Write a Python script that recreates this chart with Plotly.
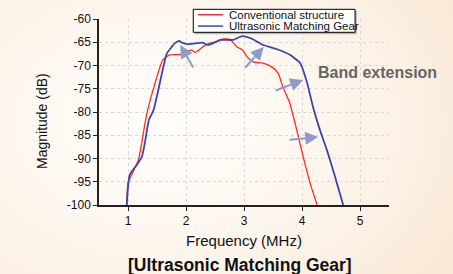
import plotly.graph_objects as go

# Conventional structure (red)
conv_f = [0.978, 1.005, 1.09, 1.18, 1.236, 1.32, 1.45, 1.60, 1.72, 1.91, 1.95, 2.10, 2.16,
          2.29, 2.41, 2.53, 2.64, 2.76, 2.88, 2.98, 3.05, 3.16, 3.33, 3.48, 3.59, 3.67,
          3.79, 3.91, 4.02, 4.14, 4.26]
conv_db = [-100, -95.0, -92.8, -90.3, -86.7, -80.6, -74.5, -68.8, -67.7, -67.6, -67.1, -66.7, -67.2,
           -66.0, -65.2, -64.9, -64.3, -64.4, -66.0, -66.7, -68.1, -69.2, -69.5, -70.3, -71.7, -74.6,
           -78.1, -83.9, -89.6, -95.3, -100]

# Ultrasonic Matching Gear (blue)
umg_f = [0.978, 1.03, 1.15, 1.24, 1.29, 1.36, 1.44, 1.61, 1.67, 1.81, 1.88, 1.95, 2.07, 2.19,
         2.28, 2.38, 2.47, 2.59, 2.81, 2.97, 3.16, 3.33, 3.57, 3.79, 3.97, 4.09, 4.19,
         4.31, 4.43, 4.57, 4.71]
umg_db = [-100, -93.5, -91.4, -89.6, -86.7, -81.7, -79.6, -70.3, -67.4, -65.2, -64.7, -65.2, -65.4, -65.2,
          -65.1, -65.6, -65.2, -64.5, -64.5, -63.7, -64.4, -65.6, -66.5, -67.7, -69.5, -73.8, -78.9,
          -83.9, -88.2, -93.9, -100]

series_names = ["Conventional structure", "Ultrasonic Matching Gear"]
series_colors = ["#ff2a2a", "#3b47a6"]

x_ticks = [1, 2, 3, 4, 5]
x_labels = ["1", "2", "3", "4", "5"]
y_ticks = [-100, -95, -90, -85, -80, -75, -70, -65, -60]
y_labels = ["-100", "-95", "-90", "-85", "-80", "-75", "-70", "-65", "-60"]

# arrows: (tail_f, tail_db, head_f, head_db)
arrows = [
    (2.14, -70.75, 1.90, -65.6),
    (3.00, -70.75, 3.34, -66.0),
    (3.52, -75.5, 4.02, -73.1),
    (3.76, -86.0, 4.28, -85.4),
]

FONT = "Liberation Sans, Arial, sans-serif"

fig = go.Figure()
fig.add_trace(go.Scatter(x=conv_f, y=conv_db, mode="lines", name=series_names[0],
                         line=dict(color=series_colors[0], width=1.3, shape="spline", smoothing=0.5),
                         showlegend=False))
fig.add_trace(go.Scatter(x=umg_f, y=umg_db, mode="lines", name=series_names[1],
                         line=dict(color=series_colors[1], width=1.8, shape="spline", smoothing=0.5),
                         showlegend=False))

for tf, tdb, hf, hdb in arrows:
    fig.add_annotation(x=hf, y=hdb, ax=tf, ay=tdb, xref="x", yref="y", axref="x", ayref="y",
                       text="", showarrow=True, arrowhead=2, arrowsize=1.3, arrowwidth=2,
                       arrowcolor="#8f9bcb")

fig.add_annotation(x=5.31, y=-71.6, xref="x", yref="y", text="<b>Band extension</b>",
                   showarrow=False, xanchor="center", yanchor="middle",
                   font=dict(family=FONT, size=16, color="#666666"))

fig.add_annotation(text="<b>[Ultrasonic Matching Gear]</b>", xref="paper", yref="paper",
                   x=0.486, y=-0.3226, xanchor="center", yanchor="middle", showarrow=False,
                   font=dict(family=FONT, size=17.5, color="#111111"))

# y-axis title placed as in the reference
fig.add_annotation(text="Magnitude (dB)", xref="paper", yref="paper", x=-0.1966, y=0.4516,
                   xanchor="center", yanchor="middle", textangle=-90, showarrow=False,
                   font=dict(family=FONT, size=14, color="#111111"))

# compact legend box like the reference
fig.add_shape(type="rect", xref="paper", yref="paper", x0=0.330, x1=0.889, y0=0.918, y1=1.045,
              fillcolor="#b8b8b8", line=dict(width=0), layer="above")
fig.add_shape(type="rect", xref="paper", yref="paper", x0=0.325, x1=0.883, y0=0.9285, y1=1.052,
              fillcolor="#ffffff", line=dict(color="#000000", width=1), layer="above")
legend_y = [1.023, 0.962]
for name, color, ly in zip(series_names, series_colors, legend_y):
    fig.add_shape(type="line", xref="paper", yref="paper", x0=0.341, x1=0.428, y0=ly, y1=ly,
                  line=dict(color=color, width=1.5), layer="above")
    fig.add_annotation(text=name, xref="paper", yref="paper", x=0.440, y=ly,
                       xanchor="left", yanchor="middle", showarrow=False,
                       font=dict(family=FONT, size=11.5, color="#111111"))

fig.update_layout(
    width=453, height=274,
    margin=dict(l=99, r=64, t=19, b=69, autoexpand=False),
    paper_bgcolor="rgba(0,0,0,0)", plot_bgcolor="rgba(0,0,0,0)",
    font=dict(family=FONT, size=12, color="#111111"),
    showlegend=False,
    xaxis=dict(range=[0.5, 5.5], tickvals=x_ticks, ticktext=x_labels,
               showline=True, linecolor="#222222", linewidth=1.5,
               ticks="outside", ticklen=4, tickcolor="#222222",
               showgrid=True, gridcolor="#d9d9d9", griddash="dot", gridwidth=1,
               zeroline=False, mirror=False, automargin=False,
               title=dict(text="Frequency (MHz)", font=dict(size=15), standoff=8)),
    yaxis=dict(range=[-100, -60], tickvals=y_ticks, ticktext=y_labels,
               showline=True, linecolor="#222222", linewidth=1.5,
               ticks="outside", ticklen=4, tickcolor="#222222",
               showgrid=True, gridcolor="#d9d9d9", griddash="dot", gridwidth=1,
               zeroline=False, mirror=False, automargin=False),
)

page_js = (
    "document.body.style.margin='0';"
    "document.documentElement.style.background='#fcf4ea';"
    "document.body.style.background='radial-gradient(ellipse 75% 90% at 35% 45%, "
    "#fffdfa 0%, #fdf7ef 45%, #fbefe1 80%, #f9e8d4 100%)';"
    "document.body.style.minHeight='274px';"
)

fig.write_html("out.html", post_script=page_js, config={"displayModeBar": False})
